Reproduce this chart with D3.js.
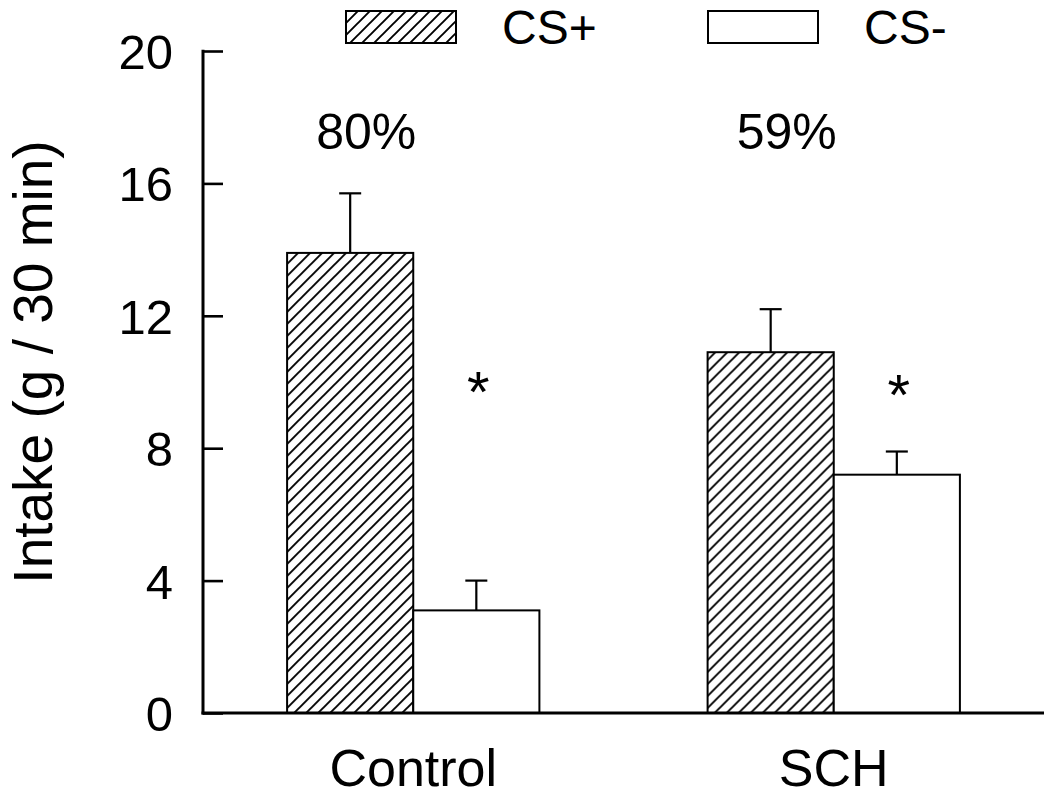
<!DOCTYPE html>
<html>
<head>
<meta charset="utf-8">
<script src="https://cdn.jsdelivr.net/npm/d3@7"></script>
<style>
  html, body { margin: 0; padding: 0; background: #fff; }
  text { font-family: "Liberation Sans", Arial, Helvetica, sans-serif; fill: #000; }
</style>
</head>
<body>
<svg id="chart" width="1050" height="797"></svg>
<script>
// ---- data ----
const groups = ["Control", "SCH"];
const series = ["CS+", "CS-"];
const meanCSplus = [13.9, 10.9];
const meanCSminus = [3.1, 7.2];
const errCSplus = [1.8, 1.3];
const errCSminus = [0.9, 0.7];
const percentLabels = ["80%", "59%"];
const yTicks = [0, 4, 8, 12, 16, 20];
const yLabel = "Intake (g / 30 min)";

(function () {
const svg = d3.select("#chart");

// pattern
const defs = svg.append("defs");
const pat = defs.append("pattern")
  .attr("id", "hatch").attr("patternUnits", "userSpaceOnUse")
  .attr("width", 12).attr("height", 12);
pat.append("rect").attr("width", 12).attr("height", 12).attr("fill", "#fff");
pat.append("path")
  .attr("d", "M0,12 L12,0 M-3,3 L3,-3 M9,15 L15,9")
  .attr("stroke", "#000").attr("stroke-width", 1.9);

const pLeft = 203, pRight = 1044, pTop = 51, pBottom = 713;

const x0 = d3.scaleBand().domain(groups).range([pLeft, pRight])
  .paddingInner(0.4).paddingOuter(0.2);
const x1 = d3.scaleBand().domain(series).range([0, x0.bandwidth()]).padding(0);
const y = d3.scaleLinear().domain([0, 20]).range([pBottom, pTop]);

const rows = groups.map((g, i) => ({
  group: g,
  bars: [
    { s: "CS+", v: meanCSplus[i], e: errCSplus[i] },
    { s: "CS-", v: meanCSminus[i], e: errCSminus[i] }
  ]
}));

const gGroup = svg.selectAll("g.grp").data(rows).join("g")
  .attr("class", "grp")
  .attr("transform", d => `translate(${x0(d.group)},0)`);

// error bars
gGroup.selectAll("g.err").data(d => d.bars).join("g").attr("class", "err")
  .each(function(d) {
    const cx = x1(d.s) + x1.bandwidth() / 2;
    const g = d3.select(this);
    g.append("line").attr("x1", cx).attr("x2", cx)
      .attr("y1", y(d.v)).attr("y2", y(d.v + d.e))
      .attr("stroke", "#000").attr("stroke-width", 2.2);
    g.append("line").attr("x1", cx - 11).attr("x2", cx + 11)
      .attr("y1", y(d.v + d.e)).attr("y2", y(d.v + d.e))
      .attr("stroke", "#000").attr("stroke-width", 2.2);
  });

gGroup.selectAll("rect.bar").data(d => d.bars).join("rect")
  .attr("class", "bar")
  .attr("x", d => x1(d.s))
  .attr("y", d => y(d.v))
  .attr("width", x1.bandwidth())
  .attr("height", d => y(0) - y(d.v))
  .attr("fill", d => d.s === "CS+" ? "url(#hatch)" : "#fff")
  .attr("stroke", "#000").attr("stroke-width", 2);

// asterisks above CS- bars
gGroup.append("text")
  .attr("x", x1("CS-") + x1.bandwidth() / 2 + 2)
  .attr("y", (d, i) => i === 0 ? 412 : 415)
  .attr("text-anchor", "middle")
  .attr("font-size", 58)
  .text("*");

// percent labels
gGroup.append("text")
  .attr("x", x0.bandwidth() / 2 - 47)
  .attr("y", 149)
  .attr("text-anchor", "middle")
  .attr("font-size", 50)
  .text((d, i) => percentLabels[i]);

// y axis
const yAxis = d3.axisRight(y).tickValues(yTicks).tickSize(20).tickFormat("");
const ya = svg.append("g").attr("transform", `translate(${pLeft},0)`).call(yAxis);
ya.select(".domain").remove();
ya.selectAll(".tick line").attr("stroke", "#000").attr("stroke-width", 2.6);
svg.append("line").attr("x1", pLeft).attr("x2", pLeft)
  .attr("y1", y(20) - 1.3).attr("y2", y(0) + 1.5)
  .attr("stroke", "#000").attr("stroke-width", 3);

svg.append("g").selectAll("text").data(yTicks).join("text")
  .attr("x", 173).attr("y", d => y(d) + 18)
  .attr("text-anchor", "end").attr("font-size", 49)
  .text(d => d);

// x axis
svg.append("line").attr("x1", pLeft - 1.5).attr("x2", pRight)
  .attr("y1", pBottom).attr("y2", pBottom)
  .attr("stroke", "#000").attr("stroke-width", 3);

svg.append("g").selectAll("text").data(groups).join("text")
  .attr("x", d => x0(d) + x0.bandwidth() / 2)
  .attr("y", 786)
  .attr("text-anchor", "middle").attr("font-size", 52)
  .text(d => d);

// y label
svg.append("text")
  .attr("transform", "translate(52,362) rotate(-90)")
  .attr("text-anchor", "middle").attr("font-size", 55)
  .text(yLabel);

// legend
const legendX = [346, 708];
const leg = svg.append("g").selectAll("g").data(series).join("g")
  .attr("transform", (d, i) => `translate(${legendX[i]},11)`);
leg.append("rect").attr("width", 110).attr("height", 32)
  .attr("fill", d => d === "CS+" ? "url(#hatch)" : "#fff")
  .attr("stroke", "#000").attr("stroke-width", 2);
leg.append("text").attr("x", 156).attr("y", 33)
  .attr("font-size", 48).text(d => d);
})();
</script>
</body>
</html>
